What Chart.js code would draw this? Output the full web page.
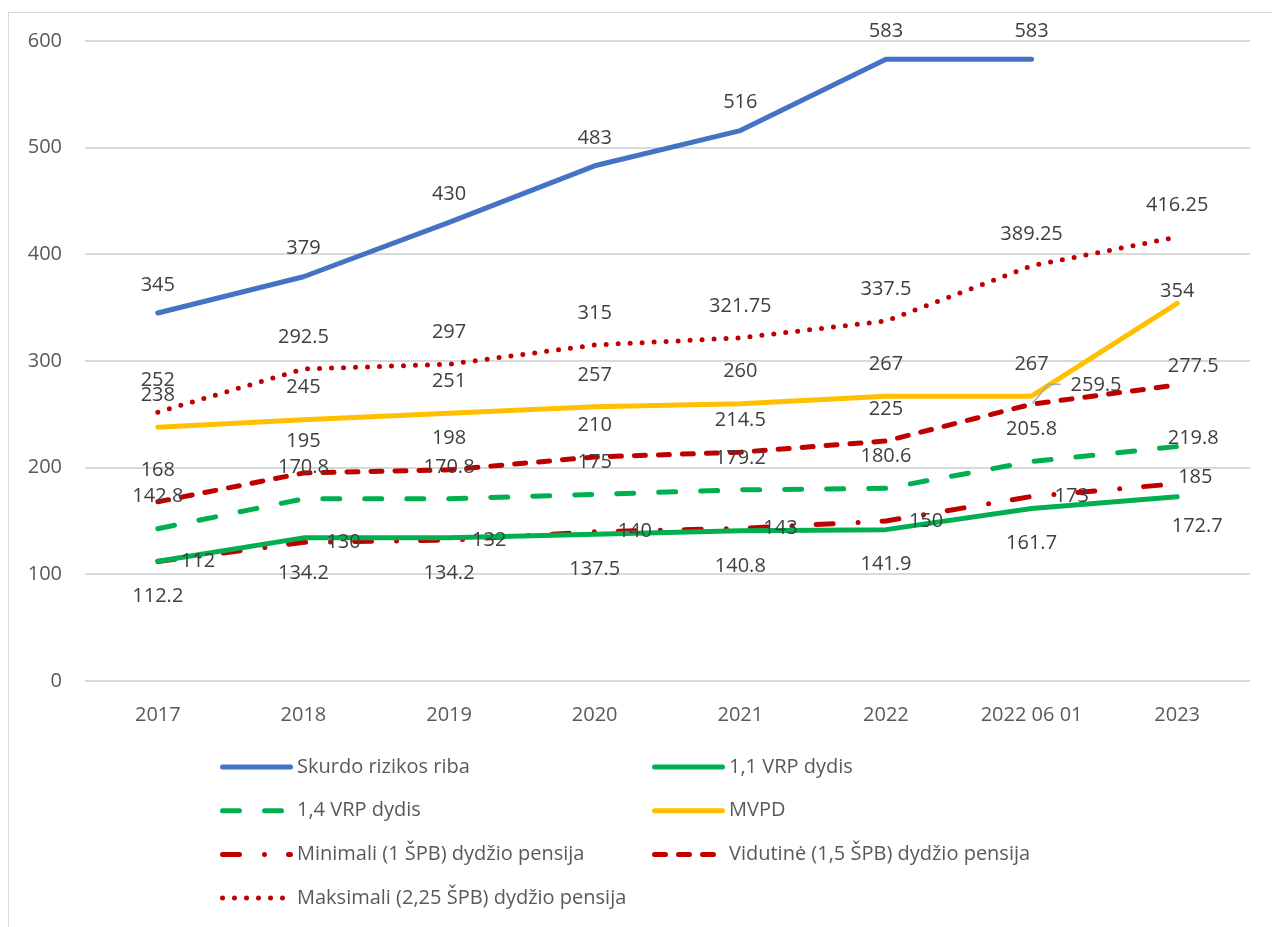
<!DOCTYPE html>
<html lang="lt">
<head>
    <meta charset="UTF-8">
    <title>Skurdo rizikos riba ir pensijos</title>
    <script src="https://cdn.jsdelivr.net/npm/chart.js"></script>
    <style>
        html, body {
            margin: 0;
            padding: 0;
            background: #fff;
            overflow: hidden;
        }

        /* Excel style chart frame, only left and top edges are visible */
        .frame {
            position: absolute;
            left: 8px;
            top: 12px;
            width: 1300px;
            height: 1000px;
            border-left: 1px solid #d9d9d9;
            border-top: 1px solid #d9d9d9;
        }

        canvas {
            display: block;
        }
    </style>
</head>
<body>

<div class="frame">
    <canvas id="pensionChart" width="1263" height="914"></canvas>
</div>

<script>
    // Data
    var labels = ['2017', '2018', '2019', '2020', '2021', '2022', '2022 06 01', '2023'];
    var skurdoRiba = [345, 379, 430, 483, 516, 583, 583, null];
    var vrp11 = [112.2, 134.2, 134.2, 137.5, 140.8, 141.9, 161.7, 172.7];
    var vrp14 = [142.8, 170.8, 170.8, 175, 179.2, 180.6, 205.8, 219.8];
    var mvpd = [238, 245, 251, 257, 260, 267, 267, 354];
    var minPensija = [112, 130, 132, 140, 143, 150, 173, 185];
    var vidPensija = [168, 195, 198, 210, 214.5, 225, 259.5, 277.5];
    var maxPensija = [252, 292.5, 297, 315, 321.75, 337.5, 389.25, 416.25];
    var yTicks = [0, 100, 200, 300, 400, 500, 600];

    var FONT = '"Open Sans", sans-serif';
    var RED = '#c00000';

    // Hand moved labels (Excel moved a few of them), keyed "dataset-index"
    var labelFix = {
        '1-7': { dx: 20, dy: 30, align: 'center' },
        '2-7': { dx: 16, dy: -8, align: 'center' },
        '3-7': { dx: 0, dy: -12, align: 'center' },
        '4-7': { dx: 1, dy: -6, align: 'left' },
        '5-6': { dx: 39, dy: -19, align: 'left', leader: true },
        '5-7': { dx: 16, dy: -19, align: 'center' }
    };

    function lineSet(label, data, color, dash, pos) {
        return {
            label: label,
            data: data,
            borderColor: color,
            backgroundColor: color,
            borderWidth: 5,
            borderDash: dash,
            borderCapStyle: 'round',
            borderJoinStyle: 'round',
            pointRadius: 0,
            pointHoverRadius: 0,
            tension: 0,
            spanGaps: false,
            labelPos: pos
        };
    }

    // Value labels next to each point
    var valueLabels = {
        id: 'valueLabels',
        afterDatasetsDraw: function (chart) {
            var ctx = chart.ctx;
            ctx.save();
            ctx.font = '20px ' + FONT;
            ctx.fillStyle = '#404040';
            ctx.textBaseline = 'middle';
            chart.data.datasets.forEach(function (ds, i) {
                var meta = chart.getDatasetMeta(i);
                meta.data.forEach(function (pt, j) {
                    var v = ds.data[j];
                    if (v === null || v === undefined) return;
                    var dx = 0, dy = -32, align = 'center';
                    if (ds.labelPos === 'top') { dy = -28; }
                    if (ds.labelPos === 'below') { dy = 35; }
                    if (ds.labelPos === 'right') { dx = 23; dy = 0; align = 'left'; }
                    var fix = labelFix[i + '-' + j];
                    if (fix) { dx = fix.dx; dy = fix.dy; align = fix.align; }
                    if (fix && fix.leader) {
                        ctx.save();
                        ctx.strokeStyle = '#a6a6a6';
                        ctx.lineWidth = 1.5;
                        ctx.beginPath();
                        ctx.moveTo(pt.x + 1, pt.y - 1);
                        ctx.lineTo(pt.x + 17, pt.y - 20);
                        ctx.lineTo(pt.x + 29, pt.y - 20);
                        ctx.stroke();
                        ctx.restore();
                    }
                    ctx.textAlign = align;
                    ctx.fillText(String(v), pt.x + dx, pt.y + dy);
                });
            });
            ctx.restore();
        }
    };

    // Two column legend under the plot, like the Excel one
    var gridLegend = {
        id: 'gridLegend',
        afterDraw: function (chart) {
            var ctx = chart.ctx;
            var cols = [211, 643];
            var top = 754, rowStep = 43.7;
            ctx.save();
            chart.data.datasets.forEach(function (ds, i) {
                var x0 = cols[i % 2];
                var y = top + Math.floor(i / 2) * rowStep;
                ctx.strokeStyle = ds.borderColor;
                ctx.lineWidth = ds.borderWidth;
                ctx.lineCap = 'round';
                ctx.setLineDash(ds.borderDash || []);
                ctx.beginPath();
                ctx.moveTo(x0 + 2.5, y);
                ctx.lineTo(x0 + 70.5, y);
                ctx.stroke();
                ctx.setLineDash([]);
                ctx.font = '20px ' + FONT;
                ctx.fillStyle = '#595959';
                ctx.textAlign = 'left';
                ctx.textBaseline = 'middle';
                ctx.fillText(ds.label, x0 + 77, y);
            });
            ctx.restore();
        }
    };

    var ctx = document.getElementById('pensionChart').getContext('2d');
    var pensionChart = new Chart(ctx, {
        type: 'line',
        data: {
            labels: labels,
            datasets: [
                lineSet('Skurdo rizikos riba', skurdoRiba, '#4472c4', [], 'top'),
                lineSet('1,1 VRP dydis', vrp11, '#00b050', [], 'below'),
                lineSet('1,4 VRP dydis', vrp14, '#00b050', [17, 25], 'above'),
                lineSet('MVPD', mvpd, '#ffc000', [], 'above'),
                lineSet('Minimali (1 ŠPB) dydžio pensija', minPensija, RED, [17, 25, 0, 24], 'right'),
                lineSet('Vidutinė (1,5 ŠPB) dydžio pensija', vidPensija, RED, [11, 13], 'above'),
                lineSet('Maksimali (2,25 ŠPB) dydžio pensija', maxPensija, RED, [0, 12], 'above')
            ]
        },
        options: {
            responsive: false,
            animation: false,
            layout: {
                padding: { top: 28, right: 22, bottom: 196, left: 0 }
            },
            plugins: {
                legend: { display: false },
                tooltip: { enabled: false }
            },
            scales: {
                x: {
                    offset: true,
                    grid: { display: false },
                    border: { display: false },
                    ticks: {
                        color: '#595959',
                        font: { family: FONT, size: 20 },
                        padding: 14,
                        maxRotation: 0
                    },
                    afterFit: function (scale) {
                        scale.height = 50;
                        scale.paddingTop = 0;
                        scale.paddingBottom = 0;
                    }
                },
                y: {
                    min: yTicks[0],
                    max: yTicks[yTicks.length - 1],
                    ticks: {
                        stepSize: yTicks[1] - yTicks[0],
                        color: '#595959',
                        font: { family: FONT, size: 20 },
                        padding: 23
                    },
                    grid: {
                        color: '#d9d9d9',
                        lineWidth: 2,
                        drawTicks: false
                    },
                    border: { display: false },
                    afterFit: function (scale) {
                        scale.width = 76;
                        scale.paddingTop = 0;
                        scale.paddingBottom = 0;
                    }
                }
            }
        },
        plugins: [valueLabels, gridLegend]
    });
</script>

</body>
</html>
